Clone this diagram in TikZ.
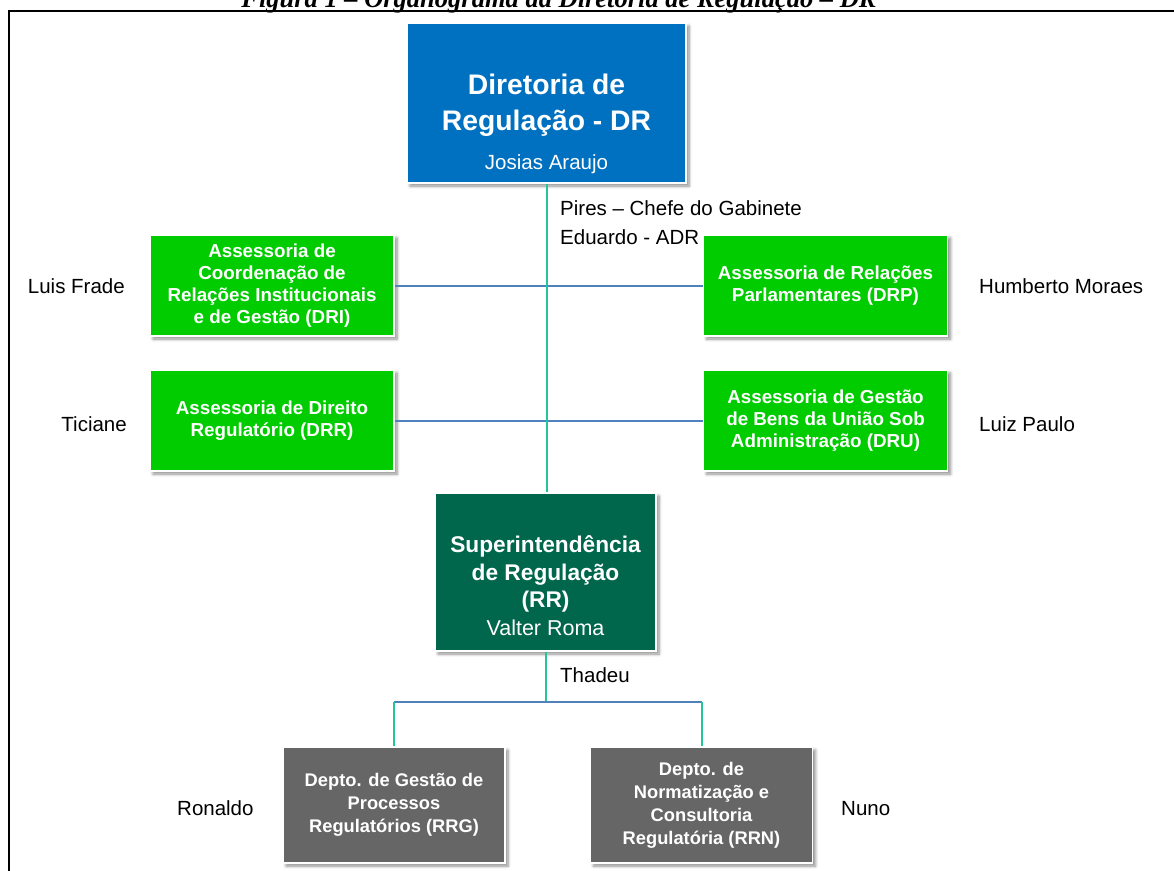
\documentclass[tikz,border=0pt]{standalone}
\usepackage{fontspec}
\setmainfont{Liberation Sans}
\newfontfamily\capfont{Liberation Serif}
\usetikzlibrary{shadows.blur}

\definecolor{drblue}{RGB}{0,112,192}
\definecolor{asgreen}{RGB}{0,204,0}
\definecolor{srgreen}{RGB}{0,102,76}
\definecolor{deptgray}{RGB}{102,102,102}
\definecolor{linkteal}{RGB}{36,198,150}
\definecolor{linkblue}{RGB}{79,129,189}

\begin{document}
\begin{tikzpicture}[x=1pt,y=-1pt,
  unitbox/.style={rectangle, draw=white, line width=1.6pt, inner sep=0pt,
    blur shadow={shadow xshift=3pt, shadow yshift=-3pt, shadow blur radius=3pt,
      shadow blur steps=6, shadow opacity=45}},
  assess/.style={unitbox, fill=asgreen, minimum width=244pt, minimum height=101pt,
    text=white, align=center, font=\fontsize{18.8}{22}\selectfont\bfseries},
  dept/.style={unitbox, fill=deptgray, minimum width=222pt, minimum height=116pt,
    text=white, align=center, font=\fontsize{18.3}{23}\selectfont\bfseries},
  boxline/.style={text=white, anchor=base, inner sep=0pt},
  person/.style={font=\fontsize{20.5}{24}\selectfont, inner sep=0pt},
  vlink/.style={draw=linkteal, line width=2pt},
  hlink/.style={draw=linkblue, line width=2pt}]

\useasboundingbox (0,0) rectangle (1174,870);
\clip (0,0) rectangle (1174,870);

% caption and frame
\node[font=\capfont\fontsize{26.5}{26.5}\selectfont\bfseries\itshape, anchor=base, inner sep=0pt]
  (caption) at (559,7.5) {Figura 1 – Organograma da Diretoria de Regulação – DR};
\draw[line width=2.5pt, line join=miter] (9,872) -- (9,11.2) -- (1176,11.2);

% directorate
\node[unitbox, fill=drblue, minimum width=279pt, minimum height=160pt] (dr) at (546.5,103) {};
\node[boxline, font=\fontsize{28.3}{34}\selectfont\bfseries] (drt1) at (546.5,94) {Diretoria de};
\node[boxline, font=\fontsize{28.3}{34}\selectfont\bfseries] (drt2) at (546.5,130) {Regulação - DR};
\node[boxline, font=\fontsize{20.5}{24}\selectfont] (drname) at (546.5,169) {Josias Araujo};

% advisory units
\node[assess] (dri) at (272,285.5) {Assessoria de\\Coordenação de\\Relações Institucionais\\e de Gestão (DRI)};
\node[assess] (drr) at (272,420.5) {Assessoria de Direito\\Regulatório (DRR)};
\node[assess] (drp) at (825.5,285.5) {Assessoria de Relações\\Parlamentares (DRP)};
\node[assess] (dru) at (825.5,420.5) {Assessoria de Gestão\\de Bens da União Sob\\Administração (DRU)};

% superintendence
\node[unitbox, fill=srgreen, minimum width=221pt, minimum height=158pt] (sr) at (545.5,572) {};
\node[boxline, font=\fontsize{22.7}{27}\selectfont\bfseries] (srt1) at (545.5,552) {Superintendência};
\node[boxline, font=\fontsize{22.7}{27}\selectfont\bfseries] (srt2) at (545.5,580) {de Regulação};
\node[boxline, font=\fontsize{22.7}{27}\selectfont\bfseries] (srt3) at (545.5,607) {(RR)};
\node[boxline, font=\fontsize{21.5}{27}\selectfont] (srname) at (545.5,635) {Valter Roma};

% departments
\node[dept] (rrg) at (394,805) {Depto. de Gestão de\\Processos\\Regulatórios (RRG)};
\node[dept] (rrn) at (701.5,805) {Depto. de\\Normatização e\\Consultoria\\Regulatória (RRN)};

% people
\node[person, anchor=base east] (pdri) at (125,293) {Luis Frade};
\node[person, anchor=base east] (pdrr) at (127,431) {Ticiane};
\node[person, anchor=base west] (pdrp) at (979,293) {Humberto Moraes};
\node[person, anchor=base west] (pdru) at (979,431) {Luiz Paulo};
\node[person, anchor=base west] (pgab) at (560,215) {Pires – Chefe do Gabinete};
\node[person, anchor=base west] (padr) at (560,244) {Eduardo - ADR};
\node[person, anchor=base west] (psr) at (560,682) {Thadeu};
\node[person, anchor=base west] (prrg) at (177,815) {Ronaldo};
\node[person, anchor=base west] (prrn) at (841,815) {Nuno};

% connectors
\draw[hlink] (dri.east) -- (drp.west);
\draw[hlink] (drr.east) -- (dru.west);
\draw[vlink] (dr.south) -- (dr.south |- sr.north);

\coordinate (fork) at (546,702);
\draw[vlink] (sr.south) -- (sr.south |- fork);
\draw[hlink] (rrg.north |- fork) -- (rrn.north |- fork);
\draw[vlink] (rrg.north |- fork) -- (rrg.north);
\draw[vlink] (rrn.north |- fork) -- (rrn.north);
\end{tikzpicture}
\end{document}
